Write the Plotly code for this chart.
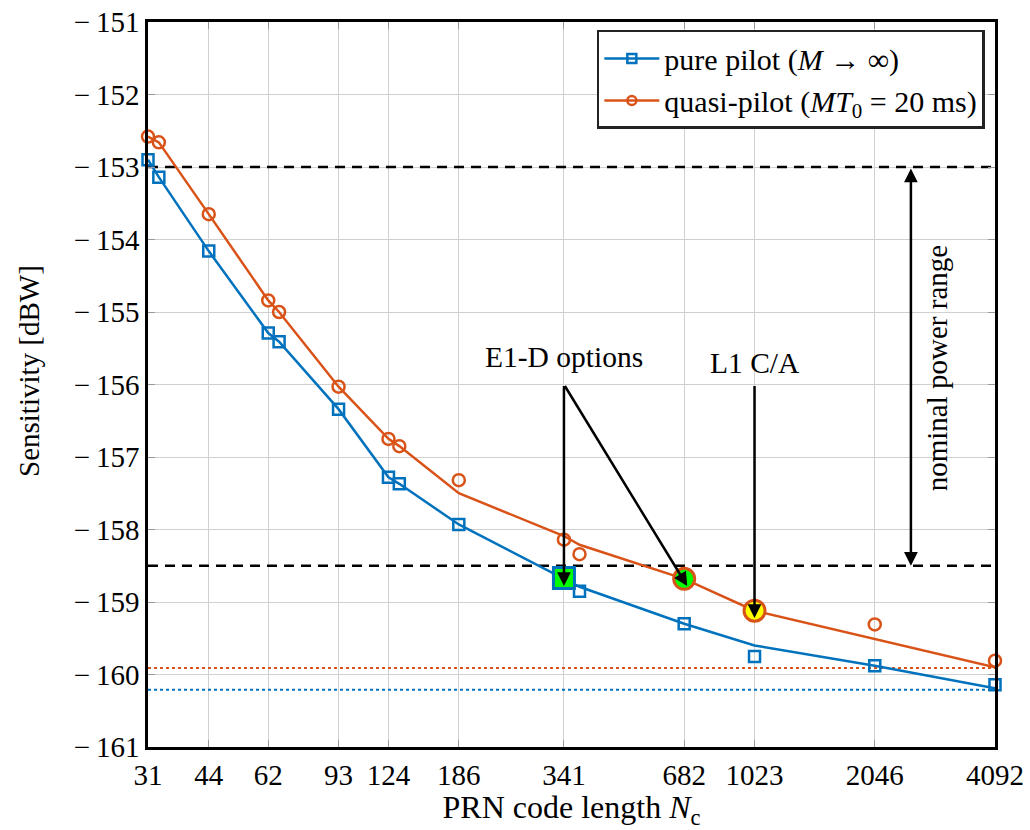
import numpy as np
import plotly.graph_objects as go

# ---------------- data ----------------
tick_N = [31, 44, 62, 93, 124, 186, 341, 682, 1023, 2046, 4092]
y_ticks = [-161, -160, -159, -158, -157, -156, -155, -154, -153, -152, -151]
y_ticktext = ["\u2212\u2009" + str(abs(v)) for v in y_ticks]

marker_N = [31, 33, 44, 62, 66, 93, 124, 132, 186, 341, 373, 682, 1023, 2046, 4092]
pilot_marker = [-152.90, -153.14, -154.16, -155.29, -155.41, -156.34, -157.28, -157.37,
                -157.93, -158.67, -158.85, -159.30, -159.75, -159.88, -160.14]
quasi_marker = [-152.58, -152.66, -153.65, -154.84, -155.00, -156.03, -156.75, -156.85,
                -157.32, -158.14, -158.34, -158.68, -159.12, -159.31, -159.81]

line_N = [31, 33, 44, 62, 66, 93, 124, 132, 186, 341, 373, 682, 1023, 2046, 4092]
pilot_line = [-152.90, -153.14, -154.16, -155.29, -155.41, -156.34, -157.28, -157.37,
              -157.93, -158.67, -158.79, -159.30, -159.60, -159.88, -160.19]
quasi_line = [-152.58, -152.66, -153.65, -154.84, -155.00, -156.03, -156.75, -156.85,
              -157.50, -158.09, -158.21, -158.68, -159.12, -159.51, -159.90]

pilot_floor = -160.21
quasi_floor = -159.91
nominal_range = [-153.0, -158.5]

e1d_pilot_N = 341
e1d_quasi_N = 682
l1ca_N = 1023

BLUE = "#0072BD"
ORANGE = "#D95319"
FONT = "Liberation Serif"

fig = go.Figure()

xmin, xmax = tick_N[0], tick_N[-1]

# reference horizontal lines
for yv in nominal_range:
    fig.add_trace(go.Scatter(x=[xmin, xmax], y=[yv, yv], mode="lines",
                             line=dict(color="black", width=2.5, dash="10px,7px"),
                             showlegend=False, hoverinfo="skip"))
fig.add_trace(go.Scatter(x=[xmin, xmax], y=[quasi_floor, quasi_floor], mode="lines",
                         line=dict(color=ORANGE, width=2, dash="dot"),
                         showlegend=False, hoverinfo="skip"))
fig.add_trace(go.Scatter(x=[xmin, xmax], y=[pilot_floor, pilot_floor], mode="lines",
                         line=dict(color=BLUE, width=2, dash="dot"),
                         showlegend=False, hoverinfo="skip"))

# curves
fig.add_trace(go.Scatter(x=line_N, y=pilot_line, mode="lines",
                         line=dict(color=BLUE, width=2.5), showlegend=False))
fig.add_trace(go.Scatter(x=line_N, y=quasi_line, mode="lines",
                         line=dict(color=ORANGE, width=2.5), showlegend=False))
fig.add_trace(go.Scatter(x=marker_N, y=pilot_marker, mode="markers", cliponaxis=False,
                         marker=dict(symbol="square-open", size=11, color=BLUE,
                                     line=dict(width=2.5, color=BLUE)),
                         showlegend=False))
fig.add_trace(go.Scatter(x=marker_N, y=quasi_marker, mode="markers", cliponaxis=False,
                         marker=dict(symbol="circle-open", size=12, color=ORANGE,
                                     line=dict(width=2.5, color=ORANGE)),
                         showlegend=False))

# highlighted points
i_p = marker_N.index(e1d_pilot_N)
i_q = marker_N.index(e1d_quasi_N)
i_l = marker_N.index(l1ca_N)
fig.add_trace(go.Scatter(x=[marker_N[i_p]], y=[pilot_marker[i_p]], mode="markers",
                         marker=dict(symbol="square", size=21, color="#00FF00",
                                     line=dict(width=3, color=BLUE)), showlegend=False))
fig.add_trace(go.Scatter(x=[marker_N[i_q]], y=[quasi_marker[i_q]], mode="markers",
                         marker=dict(symbol="circle", size=21, color="#00FF00",
                                     line=dict(width=3, color=ORANGE)), showlegend=False))
fig.add_trace(go.Scatter(x=[marker_N[i_l]], y=[quasi_marker[i_l]], mode="markers",
                         marker=dict(symbol="circle", size=21, color="#FFFF00",
                                     line=dict(width=3, color=ORANGE)), showlegend=False))

# legend entries
fig.add_trace(go.Scatter(x=[None], y=[None], mode="lines+markers",
                         name="pure pilot (<i>M</i> \u2192 \u221e)",
                         line=dict(color=BLUE, width=2.5),
                         marker=dict(symbol="square-open", size=9, color=BLUE,
                                     line=dict(width=2.5, color=BLUE))))
fig.add_trace(go.Scatter(x=[None], y=[None], mode="lines+markers",
                         name="quasi-pilot (<i>MT</i><sub>0</sub> = 20 ms)",
                         line=dict(color=ORANGE, width=2.5),
                         marker=dict(symbol="circle-open", size=9, color=ORANGE,
                                     line=dict(width=2.5, color=ORANGE))))

L = np.log10
ann = []
txt_y = -155.62
tail_y = -156.0
# E1-D options
ann.append(dict(x=L(e1d_pilot_N), y=txt_y, xref="x", yref="y", text="E1-D options",
                showarrow=False, font=dict(size=29.5, family=FONT, color="black")))
ann.append(dict(x=L(e1d_pilot_N), y=-158.78, ax=L(e1d_pilot_N), ay=tail_y,
                xref="x", yref="y", axref="x", ayref="y", text="", showarrow=True,
                arrowhead=2, arrowsize=1.1, arrowwidth=2.5, arrowcolor="black"))
ann.append(dict(x=L(694), y=-158.78, ax=L(e1d_pilot_N), ay=tail_y,
                xref="x", yref="y", axref="x", ayref="y", text="", showarrow=True,
                arrowhead=2, arrowsize=1.1, arrowwidth=2.5, arrowcolor="black"))
# L1 C/A
ann.append(dict(x=L(l1ca_N), y=txt_y - 0.08, xref="x", yref="y", text="L1 C/A",
                showarrow=False, font=dict(size=29.5, family=FONT, color="black")))
ann.append(dict(x=L(l1ca_N), y=-159.22, ax=L(l1ca_N), ay=tail_y,
                xref="x", yref="y", axref="x", ayref="y", text="", showarrow=True,
                arrowhead=2, arrowsize=1.1, arrowwidth=2.5, arrowcolor="black"))
# nominal power range
arrow_N = 2520
ann.append(dict(x=L(arrow_N), y=nominal_range[1], ax=L(arrow_N), ay=nominal_range[0],
                xref="x", yref="y", axref="x", ayref="y", text="", showarrow=True,
                arrowhead=2, startarrowhead=2, arrowside="end+start",
                arrowsize=1.1, startarrowsize=1.1, arrowwidth=2.5, arrowcolor="black"))
ann.append(dict(x=L(2920), y=(nominal_range[0] + nominal_range[1]) / 2 - 0.02,
                xref="x", yref="y",
                text="nominal power range", textangle=-90, showarrow=False,
                font=dict(size=29, family=FONT, color="black")))
# y axis title
ann.append(dict(x=(29 - 148) / 847, y=1 - (371 - 22) / 725, xref="paper", yref="paper",
                text="Sensitivity [dBW]", textangle=-90, showarrow=False,
                xanchor="center", yanchor="middle",
                font=dict(size=29, family=FONT, color="black")))

fig.update_layout(
    width=1030, height=830,
    margin=dict(l=148, r=35, t=22, b=83),
    paper_bgcolor="white", plot_bgcolor="white",
    font=dict(family=FONT, size=29, color="black"),
    annotations=ann,
    legend=dict(x=0.988, y=0.989, xanchor="right", yanchor="top",
                bgcolor="white", bordercolor="#222", borderwidth=2.5,
                font=dict(size=30, family=FONT), tracegroupgap=0,
                itemwidth=55),
    xaxis=dict(type="log", range=[L(xmin), L(xmax)],
               tickvals=tick_N, ticktext=[str(v) for v in tick_N],
               showgrid=True, gridcolor="#d0d0d0", gridwidth=1,
               ticks="inside", ticklen=7, tickcolor="#999",
               showline=True, linecolor="black", linewidth=2.5, mirror="ticks",
               zeroline=False, automargin=False,
               tickfont=dict(size=29, family=FONT),
               title=dict(text="PRN code length <i>N</i><sub>c</sub>", standoff=4,
                          font=dict(size=32, family=FONT))),
    yaxis=dict(range=[-161, -151], tickvals=y_ticks, ticktext=y_ticktext,
               showgrid=True, gridcolor="#d0d0d0", gridwidth=1,
               ticks="inside", ticklen=7, tickcolor="#999",
               showline=True, linecolor="black", linewidth=2.5, mirror="ticks",
               zeroline=False, automargin=False,
               tickfont=dict(size=29, family=FONT)),
)

fig.write_html("out.html")
